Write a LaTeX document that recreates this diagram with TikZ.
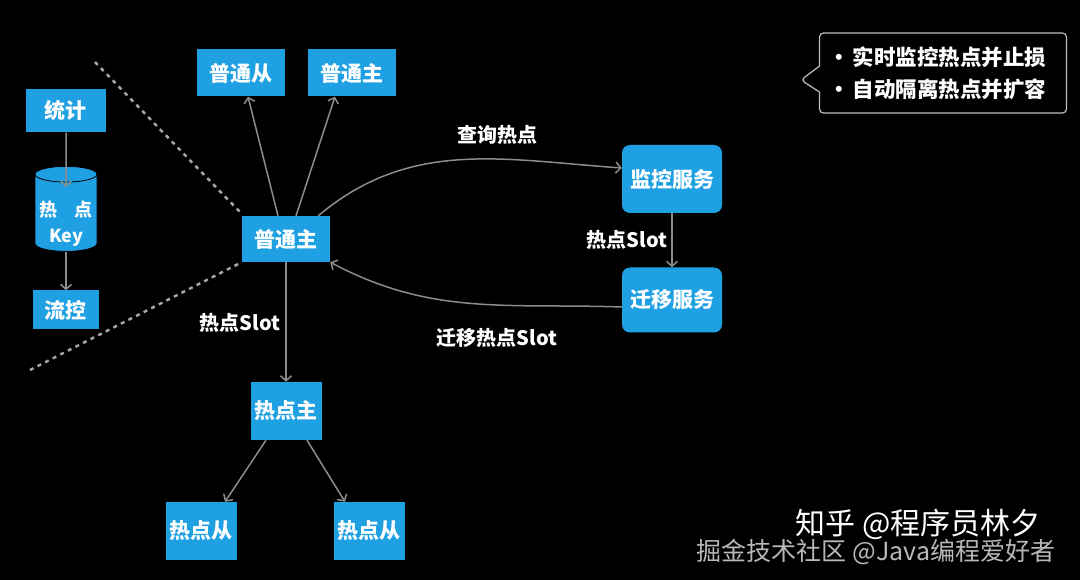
\documentclass[tikz,border=0pt]{standalone}
\usepackage{fontspec}
\setmainfont{Noto Sans CJK SC}
\usetikzlibrary{arrows.meta,shapes.geometric,shapes.callouts}
\definecolor{cblue}{RGB}{30,160,226}
\definecolor{cline}{RGB}{140,140,140}

\begin{document}
\begin{tikzpicture}[x=1pt, y=1pt,
  arr/.style={-{Straight Barb[length=5pt,width=11pt]}, draw=cline, line width=1.5pt},
  sep/.style={draw=white!65!black, line width=2.5pt, dash pattern=on 4pt off 4.5pt},
  box/.style={fill=cblue, text=white, font=\fontsize{21}{24}\selectfont\bfseries, inner sep=0pt, align=center},
  svc/.style={box, rounded corners=8pt, minimum width=100pt},
  lbl/.style={text=white, font=\fontsize{20}{23}\selectfont\bfseries, inner sep=0pt}
]
\fill[black] (0,0) rectangle (1080,-580);
\useasboundingbox (0,0) rectangle (1080,-580);

% left side: hot key statistics
\node[box, minimum width=80pt, minimum height=43pt] (stat) at (66,-111) {统计};
\node[cylinder, shape border rotate=90, aspect=0.3, minimum width=62pt, minimum height=85pt,
  cylinder uses custom fill, cylinder body fill=cblue, cylinder end fill=cblue,
  draw=black, line width=0.8pt, text=white, font=\fontsize{18}{26}\selectfont\bfseries,
  inner sep=0pt] (hk) at (66,-213)
  {\raisebox{-16pt}[12pt][12pt]{\begin{tabular}{@{}c@{}}热\hspace{0.9em}点\\Key\end{tabular}}};
\node[box, minimum width=66pt, minimum height=39pt] (flow) at (66,-310) {流控};

\draw[arr] (stat) -- ([yshift=-21pt]hk.north);
\draw[arr] (hk) -- (flow);

% master and its slaves
\node[box, minimum width=88pt, minimum height=46pt] (pz) at (286,-239) {普通主};
\node[box, minimum width=88pt, minimum height=47pt] (slv) at (241,-73) {普通从};
\node[box, minimum width=88pt, minimum height=47pt] (mst) at (352,-73) {普通主};

\draw[arr] ([xshift=-8pt]pz.north) -- ([xshift=7pt]slv.south);
\draw[arr] ([xshift=10pt]pz.north) -- ([xshift=-17pt]mst.south);

% dotted separators
\coordinate (d1) at (95,-62);
\coordinate (d2) at (30,-370);
\draw[sep] (d1) -- ([shift={(-2pt,4pt)}]pz.north west);
\draw[sep] (d2) -- ([shift={(-2pt,-1pt)}]pz.south west);

% services
\node[svc, minimum height=68pt] (mon) at (672,-179) {监控服务};
\node[svc, minimum height=65pt] (mig) at (672,-300) {迁移服务};

\draw[arr] ([xshift=-12pt]pz.north east) to[out=40, in=176] ([yshift=11pt]mon.west);
\draw[arr] (mon) -- (mig);
\draw[arr] ([yshift=-7pt]mig.west) to[out=178, in=-28] (pz.south east);

\node[lbl] (q) at (497,-135) {查询热点};
\node[lbl] (s1) at (627,-240) {热点Slot};
\node[lbl] (s2) at (497,-338) {迁移热点Slot};
\node[lbl] (s3) at (240,-323) {热点Slot};

% hot slot master and slaves
\node[box, minimum width=71pt, minimum height=58pt] (hm) at (286,-411) {热点主};
\node[box, minimum width=71pt, minimum height=58pt] (hsl) at (201,-531) {热点从};
\node[box, minimum width=71pt, minimum height=58pt] (hsr) at (369,-531) {热点从};

\draw[arr] (pz) -- (hm);
\draw[arr] ([xshift=-20pt]hm.south) -- ([xshift=24pt]hsl.north);
\draw[arr] ([xshift=21pt]hm.south) -- ([xshift=-24pt]hsr.north);

% note
\node[rectangle callout, draw=white!75!black, line width=1.2pt, rounded corners=4pt,
  callout absolute pointer={(801,-80)}, callout pointer width=26pt,
  minimum width=247pt, minimum height=80pt, text=white, align=left, text width=229pt,
  font=\fontsize{21.5}{32}\selectfont\bfseries] (note) at (943,-73)
  {•\hspace{3pt}实时监控热点并止损\\•\hspace{3pt}自动隔离热点并扩容};

% watermarks
\node[text=white!72!black, font=\fontsize{25}{28}\selectfont, inner sep=0pt] (wm2) at (876,-552) {掘金技术社区 @Java编程爱好者};
\node[text=white, font=\fontsize{30}{32}\selectfont, inner sep=0pt] (wm1) at (918,-524) {知乎 @程序员林夕};
\end{tikzpicture}
\end{document}
